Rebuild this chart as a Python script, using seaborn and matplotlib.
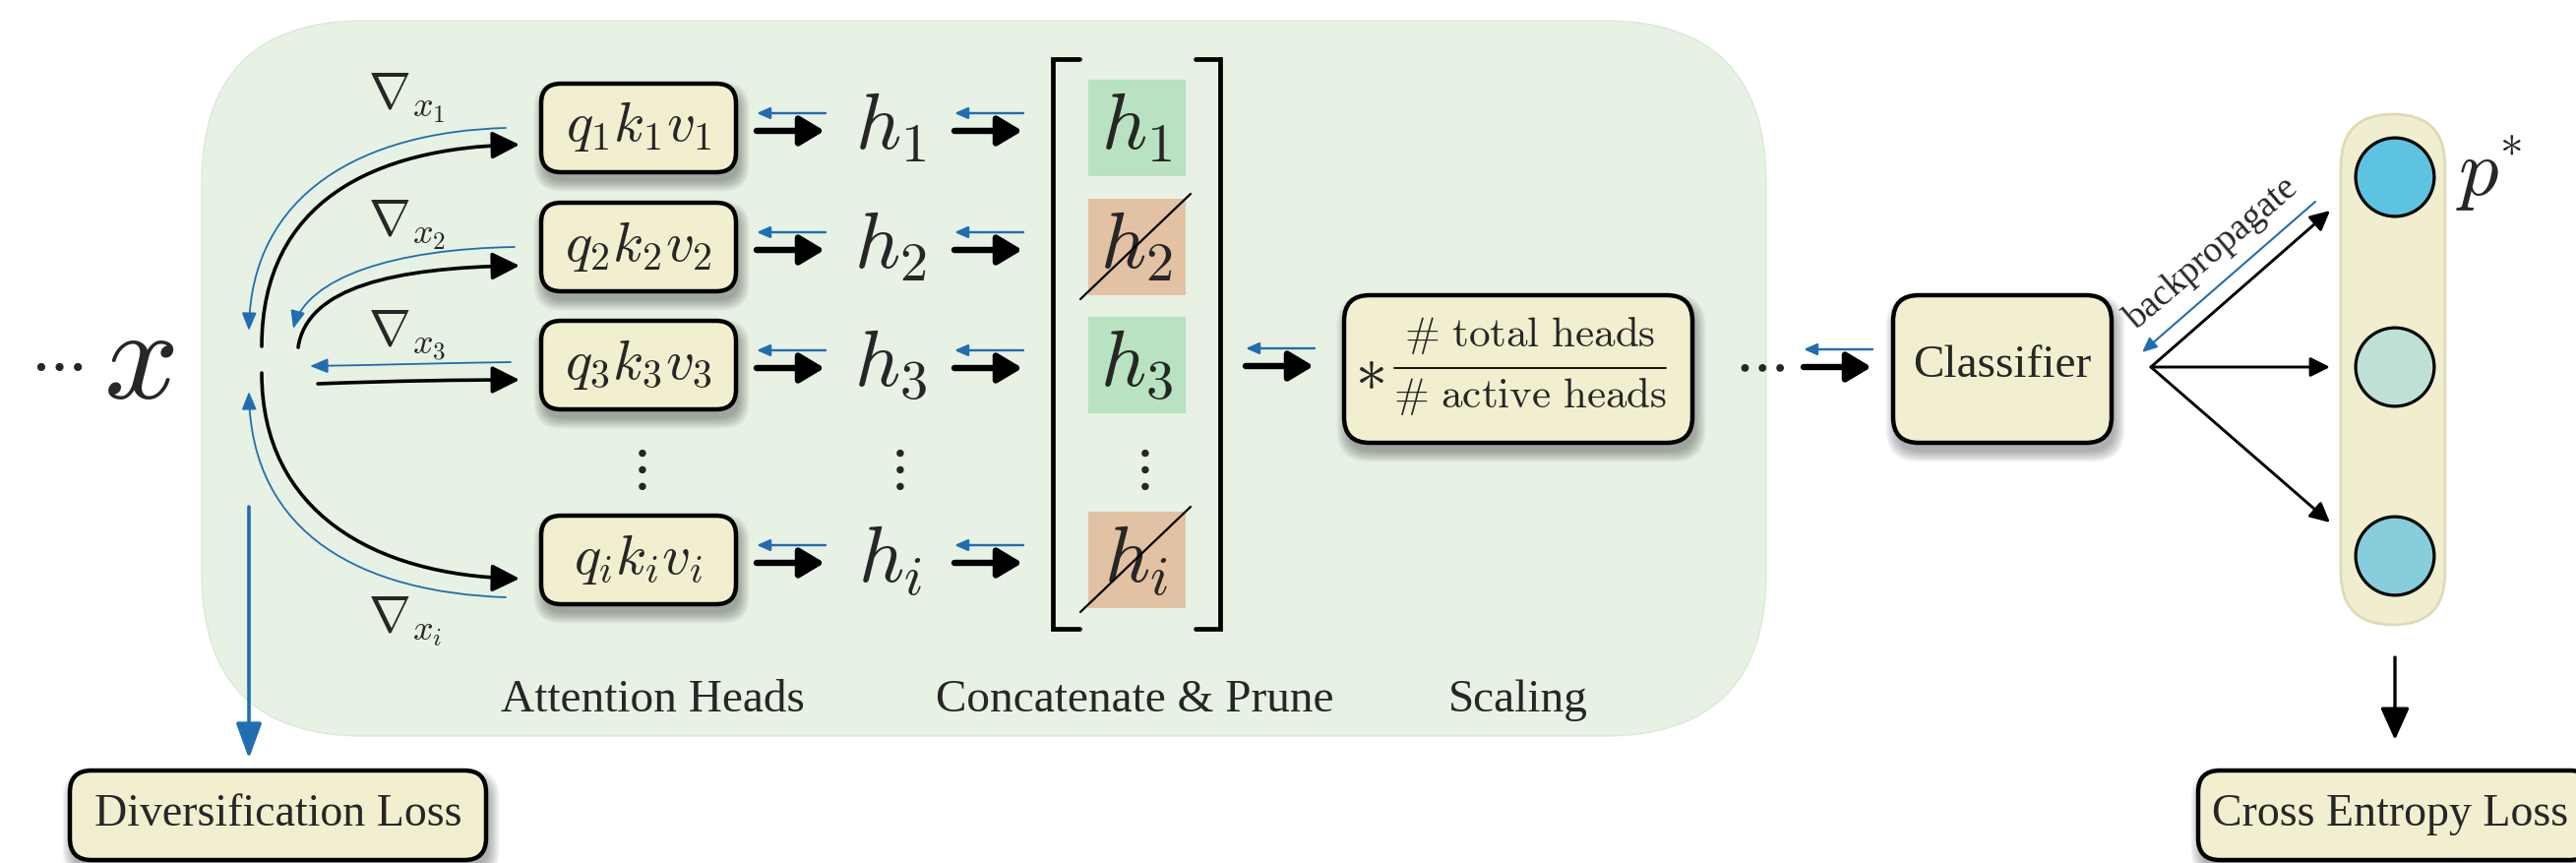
import numpy as np
import pandas as pd
import matplotlib.pyplot as plt
import seaborn as sns
from matplotlib.patches import FancyBboxPatch, FancyArrowPatch, Rectangle
from matplotlib.path import Path

sns.set_theme(style="white")
plt.rcParams["font.family"] = ["Liberation Serif", "DejaVu Serif"]
plt.rcParams["mathtext.fontset"] = "cm"

# diagram content
head_labels = [r"$q_1k_1v_1$", r"$q_2k_2v_2$", r"$q_3k_3v_3$", r"$q_ik_iv_i$"]
h_labels = [r"$h_1$", r"$h_2$", r"$h_3$", r"$h_i$"]
grad_labels = [r"$\nabla_{x_1}$", r"$\nabla_{x_2}$", r"$\nabla_{x_3}$", r"$\nabla_{x_i}$"]
pruned = [False, True, False, True]
stage_labels = ["Attention Heads", "Concatenate & Prune", "Scaling"]
scale_num = r"$\#\ \mathrm{total\ heads}$"
scale_den = r"$\#\ \mathrm{active\ heads}$"
output_nodes = ["p_a", "p_b", "p_c"]
output_colors = ["#5EC3E0", "#BEE0D6", "#86CEDB"]

# colours
BG_GREEN = "#E7F1E4"
CREAM = "#F2EFD0"
BLUE = "#1F6EB2"
KEEP = "#B8E2C1"
PRUNE = "#E2C2A2"

# layout (pixel space)
row_y = [131, 252, 372, 570]
stage_x = [663, 1153, 1543]
node_y = [180, 373, 565]

fig = plt.figure(figsize=(26.18, 8.77), dpi=100)
ax = fig.add_axes([0, 0, 1, 1])


def rbox(x, y, w, h, r, fc, ec="black", lw=3.2, shadow=True, z=2):
    if shadow:
        for k in range(8):
            ax.add_patch(FancyBboxPatch((x + 3 - k * 1.5, y + 9 - k * 1.5), w + k * 3, h + k * 3,
                                        boxstyle=f"round,pad=0,rounding_size={r + k}",
                                        fc="black", ec="none", alpha=0.045, zorder=z - 0.5))
    ax.add_patch(FancyBboxPatch((x, y), w, h, boxstyle=f"round,pad=0,rounding_size={r}",
                                fc=fc, ec=ec, lw=lw, zorder=z))


def arrow(p0, p1, color="black", lw=4, hl=24, hw=10, z=4):
    ax.add_patch(FancyArrowPatch(p0, p1, arrowstyle=f"-|>,head_length={hl},head_width={hw}",
                                 mutation_scale=1, lw=lw, color=color, shrinkA=0, shrinkB=0,
                                 zorder=z))


def curve(pts, color="black", lw=2.6, hl=17, hw=8.5, z=3):
    codes = [Path.MOVETO, Path.CURVE4, Path.CURVE4, Path.CURVE4]
    ax.add_patch(FancyArrowPatch(path=Path(pts, codes),
                                 arrowstyle=f"-|>,head_length={hl},head_width={hw}",
                                 mutation_scale=1, lw=lw, color=color, zorder=z))


def fwd_back(x0, x1, y):
    arrow((x0, y + 2), (x1, y + 2), lw=4.6, hl=15, hw=9)
    arrow((x1 + 1, y - 16), (x0, y - 16), color=BLUE, lw=1.7, hl=8, hw=3.5)


# big green panel
ax.add_patch(FancyBboxPatch((205, 21), 1590, 727, boxstyle="round,pad=0,rounding_size=165",
                            fc=BG_GREEN, ec="#DCE8D8", lw=1.0, zorder=0))

# input
ax.text(57, 372, r"$\cdots$", fontsize=46, ha="center", va="center")
ax.text(141, 372, r"$x$", fontsize=96, ha="center", va="center")

# fan-out arcs to the heads
curve([(266, 352), (266, 205), (380, 150), (528, 147)])
curve([(303, 353), (312, 292), (400, 272), (528, 270)])
curve([(323, 390), (400, 387), (470, 386), (528, 386)])
curve([(266, 379), (266, 520), (380, 585), (528, 588)])

# gradient arcs back
curve([(514, 130), (370, 134), (255, 195), (253, 336)], color=BLUE, lw=1.3, hl=11, hw=4.5)
curve([(523, 251), (400, 253), (312, 282), (298, 334)], color=BLUE, lw=1.3, hl=11, hw=4.5)
curve([(519, 368), (450, 369), (380, 371), (315, 372)], color=BLUE, lw=1.3, hl=11, hw=4.5)
curve([(514, 607), (370, 602), (255, 545), (253, 398)], color=BLUE, lw=1.3, hl=11, hw=4.5)

grad_y = [100, 229, 341, 632]
for lab, gy in zip(grad_labels, grad_y):
    ax.text(374, gy, lab, fontsize=37, ha="left", va="center")

# attention heads
for lab, hlab, ry in zip(head_labels, h_labels, row_y):
    rbox(550, ry - 46, 198, 90, 20, CREAM)
    ax.text(649, ry - 2, lab, fontsize=41, ha="center", va="center", zorder=5)
    fwd_back(769, 838, ry)
    ax.text(905, ry, hlab, fontsize=58, ha="center", va="center")
    fwd_back(970, 1039, ry)

ax.text(647, 478, r"$\vdots$", fontsize=42, ha="center", va="center")
ax.text(909, 478, r"$\vdots$", fontsize=42, ha="center", va="center")

# concatenate & prune bracket
ax.plot([1097, 1070, 1070, 1097], [60, 60, 639, 639], color="black", lw=3.4,
        solid_joinstyle="miter", zorder=3)
ax.plot([1215, 1240, 1240, 1215], [60, 60, 639, 639], color="black", lw=3.4,
        solid_joinstyle="miter", zorder=3)
for lab, ry, cut in zip(h_labels, row_y, pruned):
    ax.add_patch(Rectangle((1106, ry - 50), 99, 98, fc=PRUNE if cut else KEEP, ec="none", zorder=2))
    ax.text(1155, ry, lab, fontsize=58, ha="center", va="center", zorder=3)
    if cut:
        ax.plot([1098, 1210], [ry + 52, ry - 55], color="black", lw=1.6, zorder=4)
ax.text(1158, 478, r"$\vdots$", fontsize=42, ha="center", va="center")

fwd_back(1266, 1335, 370)

# scaling box
rbox(1366, 300, 354, 150, 26, CREAM)
ax.text(1392, 380, r"$\ast$", fontsize=46, ha="center", va="center", zorder=5)
ax.text(1555, 341, scale_num, fontsize=31, ha="center", va="center", zorder=5)
ax.text(1555, 403, scale_den, fontsize=31, ha="center", va="center", zorder=5)
ax.plot([1417, 1693], [374, 374], color="black", lw=1.3, zorder=5)

for lab, sx in zip(stage_labels, stage_x):
    ax.text(sx, 712, lab, fontsize=34, ha="center", va="center")

# classifier
ax.text(1788, 372, r"$\cdots$", fontsize=44, ha="center", va="center")
fwd_back(1833, 1902, 371)
rbox(1924, 300, 222, 150, 26, CREAM)
ax.text(2035, 372, "Classifier", fontsize=34, ha="center", va="center", zorder=5)

# output layer
ax.add_patch(FancyBboxPatch((2379, 116), 106, 519, boxstyle="round,pad=0,rounding_size=53",
                            fc="#F1EDCF", ec="#DEDBB8", lw=2, zorder=1))
for ny in node_y:
    arrow((2186, 373), (2368, ny + (34 if ny < 300 else (-34 if ny > 400 else 0))),
          lw=2.1, hl=12, hw=6)
nodes = pd.DataFrame({"x": [2434] * 3, "y": node_y, "node": output_nodes})
sns.scatterplot(data=nodes, x="x", y="y", hue="node", palette=dict(zip(output_nodes, output_colors)),
                s=3300, edgecolor="black", linewidth=2.3, legend=False, ax=ax, zorder=6)
ax.text(2518, 180, r"$p$", fontsize=58, ha="center", va="center")
ax.text(2551, 146, r"$*$", fontsize=34, ha="center", va="center")

# backpropagate
arrow((2353, 205), (2177, 358), color=BLUE, lw=1.5, hl=9, hw=4)
ax.text(2248, 258, "backpropagate", fontsize=27, rotation=40.6, rotation_mode="anchor",
        ha="center", va="center")

# losses
arrow((253, 515), (253, 771), color=BLUE, lw=2.6, hl=22, hw=8)
rbox(71, 783, 423, 91, 22, CREAM)
ax.text(283, 828, "Diversification Loss", fontsize=33, ha="center", va="center", zorder=5)

arrow((2434, 668), (2434, 752), lw=2.4, hl=20, hw=9)
rbox(2234, 783, 400, 91, 22, CREAM)
ax.text(2429, 828, "Cross Entropy Loss", fontsize=33, ha="center", va="center", zorder=5)

ax.set_xlim(0, 2618)
ax.set_ylim(877, 0)
ax.axis("off")
fig.savefig("out.png", dpi=100)
